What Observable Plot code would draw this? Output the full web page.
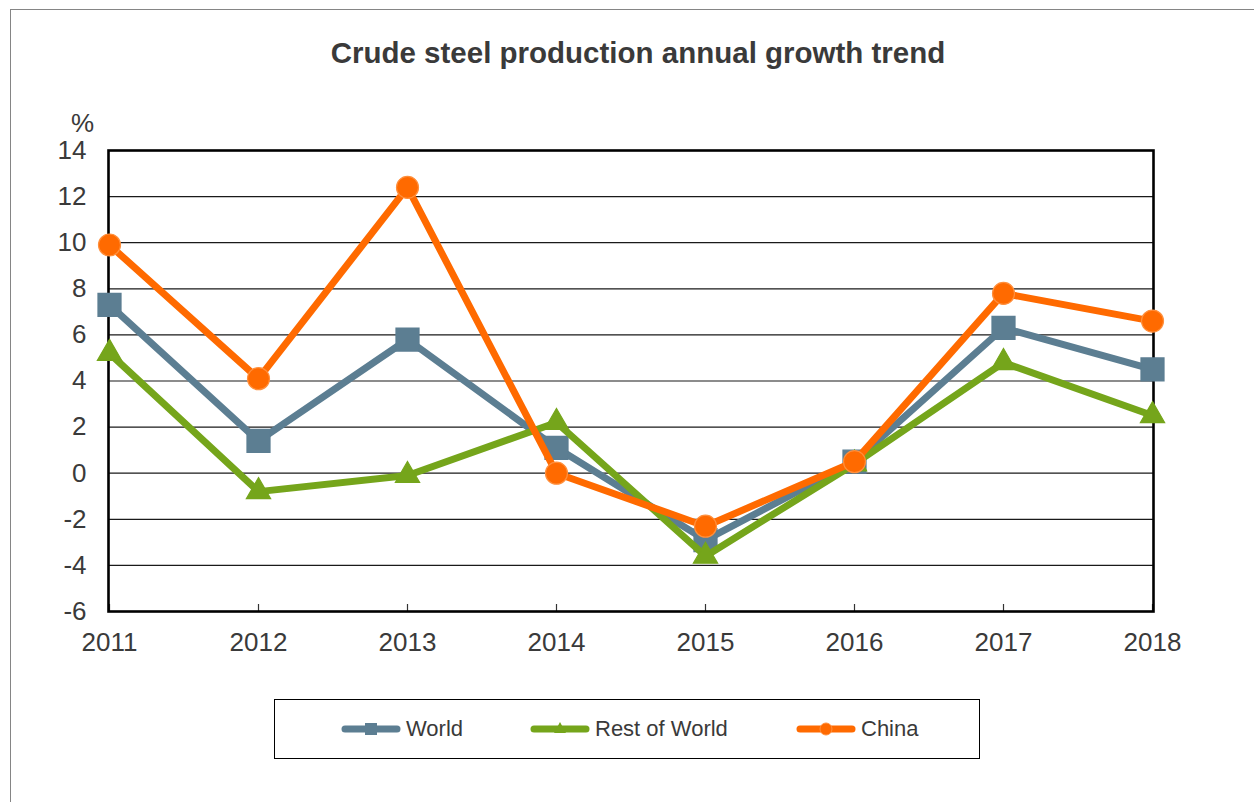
<!DOCTYPE html>
<html>
<head>
<meta charset="utf-8">
<script src="https://cdn.jsdelivr.net/npm/d3@7"></script>
<script src="https://cdn.jsdelivr.net/npm/@observablehq/plot@0.6"></script>
<style>
  html, body { margin: 0; padding: 0; background: #fff; }
  body { width: 1254px; height: 802px; position: relative; overflow: hidden; font-family: "Liberation Sans", Arial, sans-serif; }
  #border { position: absolute; left: 10px; top: 9px; width: 1300px; height: 900px; border-left: 1.5px solid #858585; border-top: 1.5px solid #858585; }
  #title { position: absolute; left: 22px; top: 33px; width: 1232px; height: 40px; text-align: center; font-weight: bold; font-size: 29.5px; line-height: 40px; color: #3a3a3a; }
  #chart { position: absolute; left: 0; top: 100px; }
  #legend { position: absolute; left: 274px; top: 699px; width: 704px; height: 58px; border: 1.2px solid #000; font-size: 22px; color: #3a3a3a; }
  .item { position: absolute; top: 0; height: 58px; display: flex; align-items: center; white-space: nowrap; }
  .item svg { margin-right: 5px; }
</style>
</head>
<body>
<div id="border"></div>
<div id="title">Crude steel production annual growth trend</div>
<div id="chart"></div>
<div id="legend"></div>
<script>
// ---- data ----
const years = [2011, 2012, 2013, 2014, 2015, 2016, 2017, 2018];
const world = [7.3, 1.4, 5.8, 1.1, -2.9, 0.5, 6.3, 4.5];
const restOfWorld = [5.2, -0.8, -0.1, 2.2, -3.6, 0.4, 4.8, 2.5];
const china = [9.9, 4.1, 12.4, 0.0, -2.3, 0.5, 7.8, 6.6];
const seriesNames = ["World", "Rest of World", "China"];
const yTicks = [-6, -4, -2, 0, 2, 4, 6, 8, 10, 12, 14];
const yUnit = "%";

const colors = { "World": "#5c7e92", "Rest of World": "#75a51b", "China": "#ff6a00" };
const outlines = { "World": "#5c7e92", "Rest of World": "#75a51b", "China": "#ff8f3c" };
const symbols = { "World": "square", "Rest of World": "triangle", "China": "circle" };
const radii = { "World": 13, "Rest of World": 9, "China": 11 };
const legendLeft = { "World": 66, "Rest of World": 255, "China": 521 };

const seriesValues = [world, restOfWorld, china];
const rows = [];
seriesNames.forEach((name, i) => {
  years.forEach((yr, j) => rows.push({ series: name, year: yr, value: seriesValues[i][j] }));
});

const marks = [
  Plot.gridY(yTicks, { stroke: "#1a1a1a", strokeOpacity: 1, strokeWidth: 1.2 }),
  Plot.tickX(years, { x: d => d, stroke: "#333", strokeWidth: 1.2, insetTop: 454 }),
  Plot.axisY(yTicks, { tickSize: 0, tickPadding: 22, label: null, fill: "#3a3a3a", tickFormat: d => String(d) }),
  Plot.axisX({ tickSize: 0, tickPadding: 21, label: null, tickFormat: d => String(d), fill: "#3a3a3a" }),
  Plot.text([yUnit], { frameAnchor: "top-left", textAnchor: "middle", lineAnchor: "middle", dx: -26, dy: -27, fontSize: 26, fill: "#3a3a3a" }),
  Plot.frame({ stroke: "#000", strokeWidth: 2.6 })
];
seriesNames.forEach(name => {
  const d = rows.filter(r => r.series === name);
  marks.push(Plot.line(d, { x: "year", y: "value", stroke: colors[name], strokeWidth: 7, strokeLinejoin: "round" }));
  marks.push(Plot.dot(d, { x: "year", y: "value", symbol: symbols[name], r: radii[name], fill: colors[name], stroke: outlines[name], strokeWidth: 1.2 }));
});

const chart = Plot.plot({
  width: 1254,
  height: 580,
  marginLeft: 108,
  marginRight: 101,
  marginTop: 50,
  marginBottom: 69,
  x: { type: "point", domain: years, padding: 0 },
  y: { domain: [-6, 14] },
  style: { fontFamily: "'Liberation Sans', Arial, sans-serif", fontSize: "26px", color: "#3a3a3a", background: "transparent", overflow: "visible" },
  marks
});
document.getElementById("chart").appendChild(chart);

// ---- legend ----
const legend = document.getElementById("legend");
seriesNames.forEach(name => {
  const c = colors[name];
  let marker = "";
  if (symbols[name] === "square") marker = `<rect x="24" y="4" width="12" height="12" fill="${c}"/>`;
  else if (symbols[name] === "triangle") marker = `<path d="M30,3 L36,14 L24,14 Z" fill="${c}"/>`;
  else marker = `<circle cx="30" cy="10" r="6" fill="${c}" stroke="${outlines[name]}" stroke-width="1"/>`;
  const item = document.createElement("div");
  item.className = "item";
  item.style.left = legendLeft[name] + "px";
  item.innerHTML = `<svg width="60" height="20"><line x1="4" y1="10" x2="56" y2="10" stroke="${c}" stroke-width="7" stroke-linecap="round"/>${marker}</svg><span>${name}</span>`;
  legend.appendChild(item);
});
</script>
</body>
</html>
